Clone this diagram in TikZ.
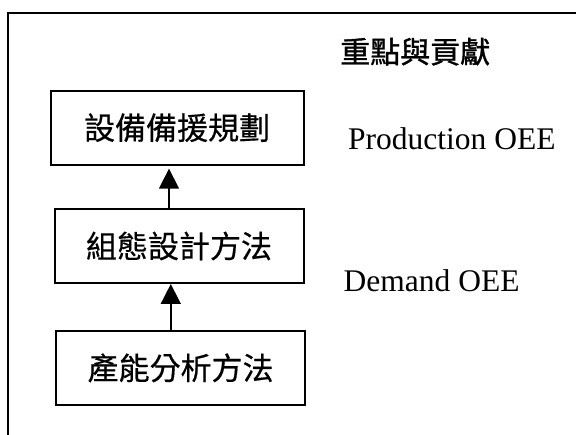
\documentclass[tikz,border=0pt]{standalone}
\usepackage{fontspec}
\setmainfont{Liberation Serif}
\newfontfamily\cjk[FakeBold=0.5]{Noto Sans CJK TC}
\newfontfamily\cjktitle[FakeBold=1.2]{Noto Sans CJK TC}
\usetikzlibrary{arrows.meta}
\tikzset{
  stepbox/.style={draw, line width=2pt, inner sep=0pt, minimum height=74pt, font=\cjk\fontsize{31}{31}\selectfont},
  arr/.style={line width=1.6pt, -{Triangle[length=20pt,width=20pt]}},
  frame/.style={line width=2pt},
  lbl/.style={inner sep=0pt, font=\fontsize{31.5}{32}\selectfont},
}
\begin{document}
\begin{tikzpicture}[x=1pt,y=-1pt]
\useasboundingbox (0,0) rectangle (576,435);
\fill[white] (0,0) rectangle (576,435);
\draw[frame] (8.3,436) -- (8.3,13) -- (577,13);
\node[stepbox, minimum width=252.8pt] (b1) at (177.1,127.7) {設備備援規劃};
\node[stepbox, minimum width=249pt] (b2) at (179,246) {組態設計方法};
\node[stepbox, minimum width=248.8pt] (b3) at (180.6,367.9) {產能分析方法};
\coordinate (a1) at (169,0);
\coordinate (a2) at (170.8,0);
\draw[arr, shorten >=3pt] (a1 |- b2.north) -- (a1 |- b1.south);
\draw[arr] (a2 |- b3.north) -- (a2 |- b2.south);
\node[inner sep=0pt, anchor=base west, font=\cjktitle\fontsize{30}{30}\selectfont] (t) at (340,63) {重點與貢獻};
\node[lbl, anchor=base west] (p) at (348,149.3) {Production OEE};
\node[lbl, anchor=base west] (d) at (343.5,291.7) {Demand OEE};
\end{tikzpicture}
\end{document}
